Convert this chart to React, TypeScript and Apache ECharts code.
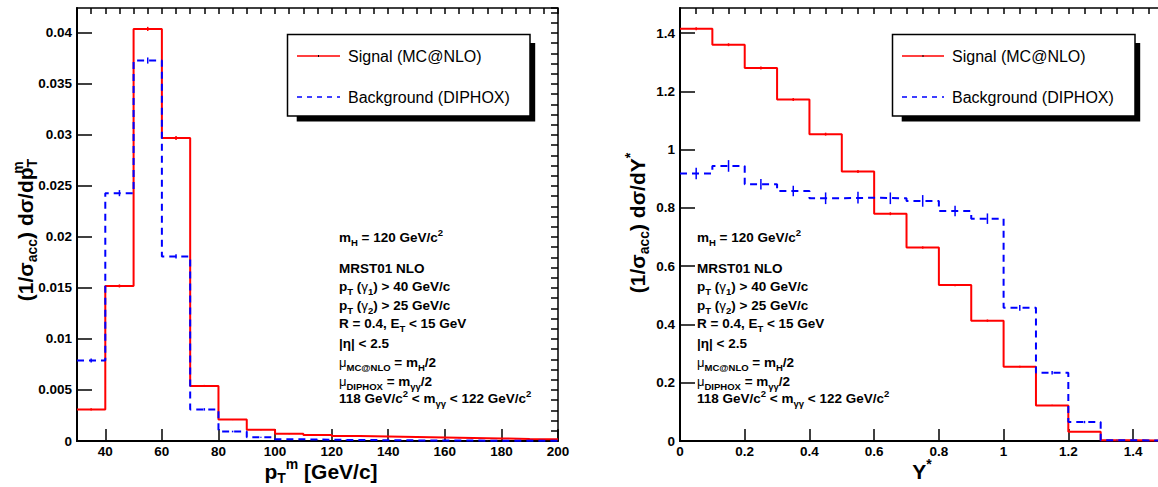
import React, { useEffect, useRef } from "react";
import * as echarts from "echarts";

const FONT = "'Liberation Sans', Arial, Helvetica, sans-serif";

// ---- Left panel: p_T^m distribution (bins of 10 GeV/c) ----
const ptEdges = [30, 40, 50, 60, 70, 80, 90, 100, 110, 120, 130, 140, 150, 160, 170, 180, 190, 200];
const ptSignal = [0.0031, 0.0152, 0.0404, 0.0297, 0.0054, 0.0021, 0.0011, 0.0007, 0.00058, 0.0005, 0.00045, 0.0004, 0.00035, 0.0003, 0.00025, 0.0002, 0.00018];
const ptSignalErr = [0.0001, 0.00015, 0.0002, 0.0002, 0.0001, 0.00005, 0.00005, 0.00003, 0.00003, 0.00003, 0.00002, 0.00002, 0.00002, 0.00002, 0.00002, 0.00002, 0.00002];
const ptBackground = [0.0079, 0.0243, 0.0373, 0.0181, 0.0031, 0.00093, 0.00036, 0.00017, 0.00012, 0.0001, 0.00008, 0.00006, 0.00005, 0.00004, 0.00003, 0.00002, 0.00002];
const ptBackgroundErr = [0.0002, 0.0003, 0.0003, 0.0002, 0.00012, 0.00008, 0.00005, 0.00003, 0.00002, 0.00002, 0.00002, 0.00001, 0.00001, 0.00001, 0.00001, 0.00001, 0.00001];
const ptTicks = [40, 60, 80, 100, 120, 140, 160, 180, 200];

// ---- Right panel: Y* distribution (bins of 0.1) ----
const yEdges = [0, 0.1, 0.2, 0.3, 0.4, 0.5, 0.6, 0.7, 0.8, 0.9, 1.0, 1.1, 1.2, 1.3, 1.4, 1.5];
const ySignal = [1.415, 1.36, 1.28, 1.172, 1.053, 0.925, 0.78, 0.664, 0.535, 0.413, 0.255, 0.122, 0.032, 0.003, 0.001];
const ySignalErr = [0.005, 0.005, 0.005, 0.005, 0.005, 0.005, 0.005, 0.004, 0.004, 0.004, 0.003, 0.002, 0.001, 0.0005, 0.0005];
const yBackground = [0.918, 0.944, 0.881, 0.858, 0.833, 0.835, 0.833, 0.824, 0.789, 0.763, 0.457, 0.234, 0.065, 0.003, 0.001];
const yBackgroundErr = [0.02, 0.02, 0.018, 0.018, 0.02, 0.02, 0.02, 0.02, 0.018, 0.018, 0.01, 0.006, 0.004, 0.001, 0.001];

const legendLabels = ["Signal (MC@NLO)", "Background (DIPHOX)"];
const annotationLines = [
  "{n|m}{s|H}{n| = 120 GeV/c}{p|2}",
  "{n|MRST01 NLO}",
  "{n|p}{s|T}{n| (}{g|γ}{s|1}{n|) > 40 GeV/c}",
  "{n|p}{s|T}{n| (}{g|γ}{s|2}{n|) > 25 GeV/c}",
  "{n|R = 0.4, E}{s|T}{n| < 15 GeV}",
  "{n||η| < 2.5}",
  "{mu|μ}{s|MC@NLO}{n| = m}{s|H}{n|/2}",
  "{mu|μ}{s|DIPHOX}{n| = m}{s|γγ}{n|/2}",
  "{n|118 GeV/c}{p|2}{n| < m}{s|γγ}{n| < 122 GeV/c}{p|2}",
];
const annotationY = [237.5, 268, 286.7, 305, 323.3, 343.5, 362.5, 381, 398.5];

const RED = "#ff0000";
const BLUE = "#0000ff";

function stepPoints(edges: number[], vals: number[]) {
  const pts: number[][] = vals.map((v, i) => [edges[i], v]);
  pts.push([edges[edges.length - 1], vals[vals.length - 1]]);
  return pts;
}
function errPoints(edges: number[], vals: number[], errs: number[]) {
  return vals.map((v, i) => [(edges[i] + edges[i + 1]) / 2, v, errs[i]]);
}

const annRich: any = {
  n: { fontFamily: FONT, fontSize: 13.5, fontWeight: "bold", lineHeight: 20, fill: "#000" },
  g: { fontFamily: FONT, fontSize: 13.5, fontWeight: "normal", lineHeight: 20, fill: "#000" },
  mu: { fontFamily: FONT, fontSize: 13, fontWeight: "normal", lineHeight: 20, fill: "#000" },
  s: { fontFamily: FONT, fontSize: 9.5, fontWeight: "bold", lineHeight: 12, verticalAlign: "bottom", fill: "#000" },
  p: { fontFamily: FONT, fontSize: 9.5, fontWeight: "bold", lineHeight: 12, verticalAlign: "top", fill: "#000" },
};
const titleRich: any = {
  t: { fontFamily: FONT, fontSize: 21, fontWeight: "bold", lineHeight: 28, fill: "#000" },
  ts: { fontFamily: FONT, fontSize: 14, fontWeight: "bold", lineHeight: 14, verticalAlign: "bottom", fill: "#000" },
  tp: { fontFamily: FONT, fontSize: 14, fontWeight: "bold", lineHeight: 14, verticalAlign: "top", fill: "#000" },
  tpz: { fontFamily: FONT, fontSize: 14, fontWeight: "bold", lineHeight: 14, verticalAlign: "top", width: 0.01, fill: "#000" },
};

function richText(x: number, y: number, text: string, rich: any, align = "left", rotation = 0) {
  return {
    type: "text",
    x,
    y,
    rotation,
    z: 100,
    style: {
      text,
      rich,
      align,
      verticalAlign: "middle",
      textAlign: align,
      textVerticalAlign: "middle",
      fill: "#000",
    },
  };
}

function legendBox(bx: number, textX: number, lineX1: number, lineX2: number) {
  const els: any[] = [];
  els.push({ type: "rect", z: 90, shape: { x: bx + 9.2, y: 43, width: 238.5, height: 78.5 }, style: { fill: "#000" } });
  els.push({ type: "rect", z: 91, shape: { x: bx, y: 34.5, width: 242.5, height: 81.5 }, style: { fill: "#fff", stroke: "#000", lineWidth: 1.5 } });
  els.push({ type: "line", z: 92, shape: { x1: lineX1, y1: 56, x2: lineX2, y2: 56 }, style: { stroke: RED, lineWidth: 1.5 } });
  els.push({ type: "line", z: 92, shape: { x1: (lineX1 + lineX2) / 2, y1: 55, x2: (lineX1 + lineX2) / 2, y2: 57 }, style: { stroke: "#000", lineWidth: 1 } });
  els.push({ type: "line", z: 92, shape: { x1: lineX1, y1: 97, x2: lineX2, y2: 97 }, style: { stroke: BLUE, lineWidth: 1.5, lineDash: [5, 5] } });
  legendLabels.forEach((lab, i) => {
    els.push({
      type: "text",
      z: 93,
      x: textX,
      y: i === 0 ? 56 : 97,
      style: { text: lab, fontFamily: FONT, fontSize: 16, fill: "#000", align: "left", verticalAlign: "middle", textAlign: "left", textVerticalAlign: "middle" },
    });
  });
  return els;
}

function majorX(grid: number, min: number, max: number, interval: number, custom?: number[]) {
  return {
    type: "value",
    gridIndex: grid,
    min,
    max,
    interval,
    axisLine: { show: true, onZero: false, lineStyle: { color: "#000", width: 2 } },
    axisTick: { show: true, inside: true, length: 12, lineStyle: { color: "#000", width: 1.5 }, ...(custom ? { customValues: custom } : {}) },
    axisLabel: {
      show: true,
      margin: 3,
      color: "#000",
      fontFamily: FONT,
      fontSize: 13.5,
      fontWeight: "bold",
      showMaxLabel: custom ? true : false,
      showMinLabel: true,
      ...(custom ? { customValues: custom } : {}),
    },
    splitLine: { show: false },
  };
}
function minorX(grid: number, min: number, max: number, interval: number) {
  return {
    type: "value",
    gridIndex: grid,
    min,
    max,
    interval,
    axisLine: { show: false, onZero: false },
    axisTick: { show: true, inside: true, length: 6, lineStyle: { color: "#000", width: 1.5 } },
    axisLabel: { show: false },
    splitLine: { show: false },
  };
}
function majorY(grid: number, min: number, max: number, interval: number) {
  return {
    type: "value",
    gridIndex: grid,
    min,
    max,
    interval,
    axisLine: { show: true, onZero: false, lineStyle: { color: "#000", width: 2 } },
    axisTick: { show: true, inside: true, length: 15, lineStyle: { color: "#000", width: 1.5 } },
    axisLabel: { show: true, margin: 5, color: "#000", fontFamily: FONT, fontSize: 13.5, fontWeight: "bold", showMaxLabel: false },
    splitLine: { show: false },
  };
}
function minorY(grid: number, min: number, max: number, interval: number) {
  return {
    type: "value",
    gridIndex: grid,
    min,
    max,
    interval,
    axisLine: { show: false, onZero: false },
    axisTick: { show: true, inside: true, length: 7, lineStyle: { color: "#000", width: 1.5 } },
    axisLabel: { show: false },
    splitLine: { show: false },
  };
}

function errSeries(xi: number, yi: number, data: number[][], color: string) {
  return {
    type: "custom",
    xAxisIndex: xi,
    yAxisIndex: yi,
    silent: true,
    z: 5,
    data,
    encode: { x: 0, y: 1 },
    renderItem: (_p: any, api: any) => {
      const x = api.value(0);
      const y = api.value(1);
      const e = api.value(2);
      const a = api.coord([x, y - e]);
      const b = api.coord([x, y + e]);
      return {
        type: "line",
        shape: { x1: a[0], y1: Math.max(a[1], b[1]), x2: b[0], y2: Math.min(a[1], b[1]) },
        style: { stroke: color, lineWidth: 1.5 },
      };
    },
  };
}

export default function App() {
  const ref = useRef<HTMLDivElement>(null);
  useEffect(() => {
    if (!ref.current) return;
    const chart = echarts.init(ref.current, null, { renderer: "svg" });
    const leftX = 339;
    const rightX = 697;
    const graphics: any[] = [
      ...legendBox(287.5, 348, 297, 340),
      ...legendBox(892.5, 952, 902, 944),
      ...annotationLines.map((t, i) => richText(leftX, annotationY[i], t, annRich)),
      ...annotationLines.map((t, i) => richText(rightX, annotationY[i], t, annRich)),
      richText(25, 230, "{t|(1/σ}{ts|acc}{t|) dσ/dp}{tpz|m}{ts|T}", titleRich, "center", Math.PI / 2),
      richText(637, 223, "{t|(1/σ}{ts|acc}{t|) dσ/dY}{tp|*}", titleRich, "center", Math.PI / 2),
      richText(321, 471, "{t|p}{ts|T}{tp|m}{t| [GeV/c]}", titleRich, "center"),
      richText(922, 471, "{t|Y}{tp|*}", titleRich, "center"),
    ];
    chart.setOption({
      animation: false,
      backgroundColor: "#fff",
      grid: [
        { left: 77, top: 8, width: 481, height: 433, show: true, borderColor: "#000", borderWidth: 1.5, backgroundColor: "transparent", containLabel: false },
        { left: 680, top: 8, width: 485.4, height: 433, show: true, borderColor: "#000", borderWidth: 1.5, backgroundColor: "transparent", containLabel: false },
      ],
      xAxis: [
        majorX(0, 30, 200, 10, ptTicks),
        minorX(0, 30, 200, 5),
        majorX(1, 0, 1.5, 0.2),
        minorX(1, 0, 1.5, 0.05),
      ],
      yAxis: [
        majorY(0, 0, 0.04245, 0.005),
        minorY(0, 0, 0.04245, 0.001),
        majorY(1, 0, 1.486, 0.2),
        minorY(1, 0, 1.486, 0.05),
      ],
      series: [
        { type: "line", xAxisIndex: 0, yAxisIndex: 0, step: "end", symbol: "none", data: stepPoints(ptEdges, ptSignal), lineStyle: { color: RED, width: 2 }, z: 3, silent: true },
        errSeries(0, 0, errPoints(ptEdges, ptSignal, ptSignalErr), RED),
        { type: "line", xAxisIndex: 0, yAxisIndex: 0, step: "end", symbol: "none", data: stepPoints(ptEdges, ptBackground), lineStyle: { color: BLUE, width: 2, type: [7, 5] }, z: 4, silent: true },
        errSeries(0, 0, errPoints(ptEdges, ptBackground, ptBackgroundErr), BLUE),
        { type: "line", xAxisIndex: 2, yAxisIndex: 2, step: "end", symbol: "none", data: stepPoints(yEdges, ySignal), lineStyle: { color: RED, width: 2 }, z: 3, silent: true },
        errSeries(2, 2, errPoints(yEdges, ySignal, ySignalErr), RED),
        { type: "line", xAxisIndex: 2, yAxisIndex: 2, step: "end", symbol: "none", data: stepPoints(yEdges, yBackground), lineStyle: { color: BLUE, width: 2, type: [7, 5] }, z: 4, silent: true },
        errSeries(2, 2, errPoints(yEdges, yBackground, yBackgroundErr), BLUE),
      ],
      graphic: graphics,
    });
    return () => chart.dispose();
  }, []);
  return (
    <div style={{ position: "absolute", left: 0, top: 0, width: 1158, height: 487, overflow: "hidden", background: "#fff" }}>
      <div ref={ref} style={{ width: 1166, height: 487 }} />
    </div>
  );
}
